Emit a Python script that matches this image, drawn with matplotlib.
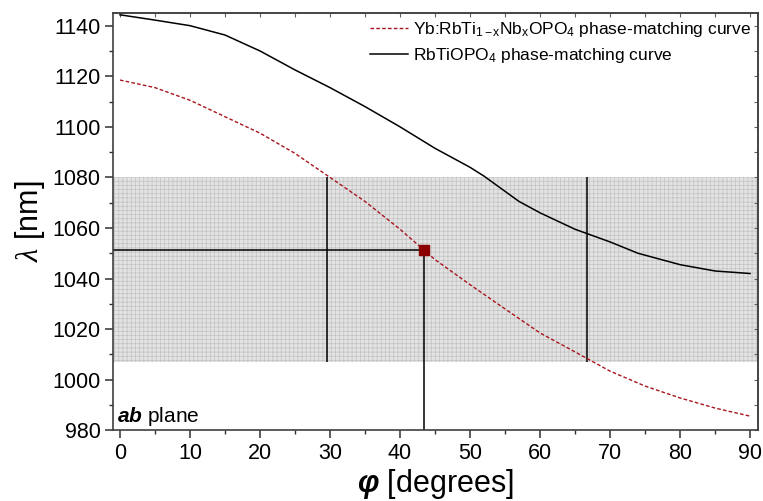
import matplotlib
matplotlib.use("Agg")
import matplotlib.pyplot as plt
from matplotlib.ticker import MultipleLocator

plt.rcParams['font.family'] = ['Liberation Sans', 'DejaVu Sans']
plt.rcParams['mathtext.fontset'] = 'custom'
plt.rcParams['mathtext.rm'] = 'Liberation Sans'
plt.rcParams['mathtext.it'] = 'Liberation Serif:italic'
plt.rcParams['mathtext.bf'] = 'Liberation Sans:bold'
plt.rcParams['mathtext.bfit'] = 'Liberation Sans:italic:bold'
plt.rcParams['hatch.linewidth'] = 0.5

# RbTiOPO4 phase-matching curve
rtp_phi = [0, 5, 10, 15, 20, 25, 30, 35, 40, 45, 50, 52, 57, 60, 65, 70, 74, 80, 85, 90]
rtp_lam = [1144.3, 1142.2, 1140, 1136.3, 1130, 1122.5, 1115.5, 1108, 1100, 1091.5,
           1084, 1080.5, 1070.5, 1066, 1059.5, 1054.5, 1050, 1045.5, 1043, 1042]

# Yb:RbTi(1-x)Nb(x)OPO4 phase-matching curve
yb_phi = [0, 5, 10, 15, 20, 25, 30, 35, 40, 45, 50, 55, 60, 65, 70, 75, 80, 85, 90]
yb_lam = [1118.5, 1115.5, 1110.5, 1104, 1097.5, 1089.5, 1080, 1070.5, 1059.5, 1047.5,
          1037.6, 1028, 1018.5, 1011, 1003.4, 997.5, 992.8, 988.8, 985.6]

# Yb emission band and its edges on the curve
band_lam = [1007, 1080]
band_phi = [29.5, 66.7]

# operating point
op_phi = 43.4
op_lam = 1051.3

fig = plt.figure(figsize=(7.63, 5.01), dpi=100)
ax = fig.add_axes([0.1481, 0.1411, 0.8450, 0.8329])

ax.axhspan(band_lam[0], band_lam[1], facecolor='#e3e3e3', edgecolor='#c2c2c2',
           hatch='++++', lw=0, zorder=0)

ax.plot(yb_phi, yb_lam, color='#a8141c', lw=1.0, dashes=(2.6, 1.6),
        label='Yb:RbTi$_{\\mathrm{1-x}}$Nb$_{\\mathrm{x}}$OPO$_{\\mathrm{4}}$ phase-matching curve',
        zorder=3)
ax.plot(rtp_phi, rtp_lam, color='black', lw=1.1,
        label='RbTiOPO$_{\\mathrm{4}}$ phase-matching curve', zorder=3)

# band edge markers and operating point guides
ax.vlines(band_phi, band_lam[0], band_lam[1], color='black', lw=1.1, zorder=2)
ax.vlines(op_phi, 980, op_lam, color='black', lw=1.1, zorder=2)
ax.hlines(op_lam, -1, op_phi, color='black', lw=1.1, zorder=2)
ax.plot([op_phi], [op_lam], 's', color='#8b0000', ms=7, zorder=4)

ax.set_xlim(-1, 91.1)
ax.set_ylim(980, 1145)

ax.xaxis.set_major_locator(MultipleLocator(10))
ax.xaxis.set_minor_locator(MultipleLocator(5))
ax.yaxis.set_major_locator(MultipleLocator(20))
ax.yaxis.set_minor_locator(MultipleLocator(10))
ax.tick_params(which='major', direction='out', length=6, width=1.1, labelsize=15.5,
               color='#303030', pad=3)
ax.tick_params(which='minor', direction='out', length=3, width=1.0, color='#303030')

top = ax.secondary_xaxis('top')
top.xaxis.set_major_locator(MultipleLocator(5))
top.tick_params(direction='in', length=3, width=0.8, labeltop=False, color='#606060')
right = ax.secondary_yaxis('right')
right.yaxis.set_major_locator(MultipleLocator(10))
right.tick_params(direction='in', length=3, width=0.8, labelright=False, color='#606060')
for sx in (top, right):
    for s in sx.spines.values():
        s.set_color('#505050')
        s.set_linewidth(1.1)

for s in ax.spines.values():
    s.set_color('#404040')
    s.set_linewidth(1.2)

ax.set_xlabel('$\\mathbfit{φ}$ [degrees]', fontsize=22, labelpad=2)
ax.set_ylabel('$λ$ [nm]', fontsize=22, labelpad=4)

ax.text(0.006, 0.02, '$\\mathbfit{ab}$ plane', transform=ax.transAxes,
        fontsize=15, va='baseline', ha='left')

ax.legend(loc='upper right', frameon=False, fontsize=12.5, handlelength=2.2,
          handletextpad=0.25, labelspacing=0.4, borderaxespad=0.1, borderpad=0.3)

fig.savefig('out.png', dpi=100)
